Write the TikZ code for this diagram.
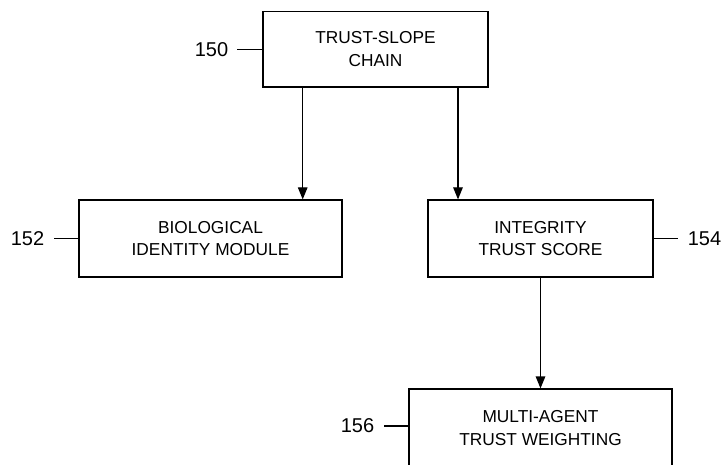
\documentclass[tikz,border=0pt]{standalone}
\usepackage{fontspec}
\setmainfont{Liberation Sans}
\usetikzlibrary{arrows.meta}
\begin{document}
\begin{tikzpicture}[x=1pt,y=-1pt,
  box/.style={draw, line width=1.2pt, align=center, inner sep=0pt,
    font=\fontsize{17.3}{22.7}\selectfont},
  lbl/.style={font=\fontsize{20}{24}\selectfont, inner sep=0pt},
  tick/.style={line width=1.1pt},
  arr/.style={line width=1.2pt, -{Triangle[length=12pt,width=9.5pt]}}]
\useasboundingbox (0,0) rectangle (728,465);
\node[box, minimum width=225pt, minimum height=75.5pt] (top) at (375.5,49.25) {TRUST-SLOPE\\CHAIN};
\node[box, minimum width=263pt, minimum height=77pt] (bio) at (210.5,238.5) {BIOLOGICAL\\IDENTITY MODULE};
\node[box, minimum width=225pt, minimum height=77pt] (its) at (540.5,238.5) {INTEGRITY\\TRUST SCORE};
\node[box, minimum width=263pt, minimum height=78pt] (mat) at (540.5,428) {MULTI-AGENT\\TRUST WEIGHTING};
\coordinate (xa) at (302.7,0);
\coordinate (xb) at (458,0);
\coordinate (xc) at (540.5,0);
\draw[arr] (top.south -| xa) -- (bio.north -| xa);
\draw[arr] (top.south -| xb) -- (its.north -| xb);
\draw[arr] (its.south -| xc) -- (mat.north -| xc);
\draw[tick] (top.west) -- ++(-25,0) coordinate (t150);
\node[lbl, anchor=east] (l150) at ([xshift=-9pt]t150) {150};
\draw[tick] (bio.west) -- ++(-24,0) coordinate (t152);
\node[lbl, anchor=east] (l152) at ([xshift=-10pt]t152) {152};
\draw[tick] (its.east) -- ++(24,0) coordinate (t154);
\node[lbl, anchor=west] (l154) at ([xshift=10pt]t154) {154};
\draw[tick] ([yshift=2pt]mat.west) -- ++(-24,0) coordinate (t156);
\node[lbl, anchor=east] (l156) at ([xshift=-10pt]t156) {156};
\end{tikzpicture}
\end{document}
